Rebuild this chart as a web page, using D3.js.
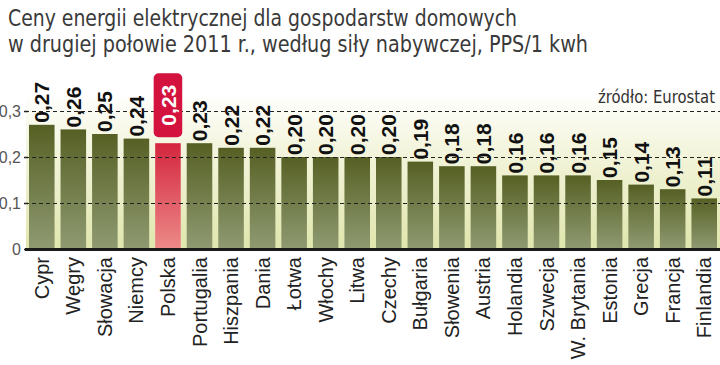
<!DOCTYPE html>
<html><head><meta charset="utf-8">
<script src="https://cdn.jsdelivr.net/npm/d3@7"></script>
<style>
html,body{margin:0;padding:0;background:#fff;}
svg{display:block;}
</style></head>
<body>
<svg id="c" width="720" height="365"></svg>
<script>
const countries = ["Cypr","Węgry","Słowacja","Niemcy","Polska","Portugalia","Hiszpania","Dania","Łotwa","Włochy","Litwa","Czechy","Bułgaria","Słowenia","Austria","Holandia","Szwecja","W. Brytania","Estonia","Grecja","Francja","Finlandia"];
const prices = [0.27,0.26,0.25,0.24,0.23,0.23,0.22,0.22,0.20,0.20,0.20,0.20,0.19,0.18,0.18,0.16,0.16,0.16,0.15,0.14,0.13,0.11];
const yTicks = [0,0.1,0.2,0.3];
const highlight = "Polska";
const titleLines = ["Ceny energii elektrycznej dla gospodarstw domowych","w drugiej połowie 2011 r., według siły nabywczej, PPS/1 kwh"];
const sourceText = "źródło: Eurostat";

const svg = d3.select("#c");
const fmt = v => v === 0 ? "0" : d3.format(".2f")(v).replace(".", ",");
const fmtT = v => v === 0 ? "0" : d3.format(".1f")(v).replace(".", ",");

const x = d3.scaleBand().domain(countries).range([26, 720]).paddingInner(0.19).paddingOuter(0.095);
const y = d3.scaleLinear().domain([0, 0.3]).range([249, 111]);

const defs = svg.append("defs");
const bg = defs.append("linearGradient").attr("id","bg").attr("gradientUnits","userSpaceOnUse")
  .attr("x1",0).attr("y1",92).attr("x2",0).attr("y2",249);
bg.append("stop").attr("offset",0).attr("stop-color","#ffffff");
bg.append("stop").attr("offset",0.35).attr("stop-color","#f4f5de");
bg.append("stop").attr("offset",1).attr("stop-color","#e0e6ad");
const gG = defs.append("linearGradient").attr("id","gbar").attr("x1",0).attr("y1",0).attr("x2",0).attr("y2",1);
gG.append("stop").attr("offset",0).attr("stop-color","#566024");
gG.append("stop").attr("offset",1).attr("stop-color","#8f9a72");
const gR = defs.append("linearGradient").attr("id","rbar").attr("x1",0).attr("y1",0).attr("x2",0).attr("y2",1);
gR.append("stop").attr("offset",0).attr("stop-color","#d4263e");
gR.append("stop").attr("offset",1).attr("stop-color","#ec8a88");

// background
svg.append("rect").attr("x",26).attr("y",92).attr("width",694).attr("height",249-92).attr("fill","url(#bg)");

// title
svg.selectAll("text.title").data(titleLines).join("text").attr("class","title")
  .attr("x",8).attr("y",(d,i)=>26+i*26)
  .attr("font-family","'Liberation Sans Narrow','DejaVu Sans Condensed',sans-serif")
  .attr("font-size",23).attr("fill","#3a3a3a")
  .attr("textLength",(d,i)=> i===0 ? 509 : 580).attr("lengthAdjust","spacingAndGlyphs")
  .text(d=>d);

// source
svg.append("text").attr("x",715).attr("y",103).attr("text-anchor","end")
  .attr("font-family","'Liberation Sans Narrow','DejaVu Sans Condensed',sans-serif")
  .attr("font-size",17).attr("fill","#333")
  .attr("textLength",117).attr("lengthAdjust","spacingAndGlyphs")
  .text(sourceText);

// bars
svg.selectAll("rect.bar").data(countries).join("rect").attr("class","bar")
  .attr("x",d=>x(d)).attr("width",x.bandwidth())
  .attr("y",(d,i)=>y(prices[i])).attr("height",(d,i)=>y(0)-y(prices[i]))
  .attr("fill",d=> d===highlight ? "url(#rbar)" : "url(#gbar)");

// grid lines
svg.selectAll("line.grid").data(yTicks.filter(t=>t>0)).join("line").attr("class","grid")
  .attr("x1",25).attr("x2",720).attr("y1",d=>y(d)+0.5).attr("y2",d=>y(d)+0.5)
  .attr("stroke","#222").attr("stroke-width",1).attr("stroke-dasharray","4,3");

// y axis
const ax = svg.append("g").attr("transform","translate(28,0)")
  .call(d3.axisLeft(y).tickValues(yTicks).tickFormat(fmtT).tickSize(4).tickPadding(3));
ax.select(".domain").remove();
ax.selectAll(".tick line").attr("stroke","#222").attr("stroke-width",1.5);
ax.selectAll(".tick text").attr("font-family","'Liberation Sans','Arial',sans-serif")
  .attr("font-size",16).attr("fill","#555");

// baseline
svg.append("line").attr("x1",25).attr("x2",720).attr("y1",y(0)+0.5).attr("y2",y(0)+0.5)
  .attr("stroke","#1a1a1a").attr("stroke-width",3);

// category labels
svg.selectAll("text.cat").data(countries).join("text").attr("class","cat")
  .attr("transform",d=>`translate(${x(d)+x.bandwidth()/2},257) rotate(-90)`)
  .attr("text-anchor","end").attr("dy","0.35em")
  .attr("font-family","'Liberation Sans','Arial',sans-serif")
  .attr("font-size",20).attr("fill","#222")
  .text(d=>d);

// value labels
const hi = countries.indexOf(highlight);
const boxH = 64;
svg.append("rect")
  .attr("x",x(highlight)-1.5).attr("width",x.bandwidth()+3)
  .attr("y",y(prices[hi])-6-boxH).attr("height",boxH)
  .attr("rx",5).attr("fill","#d4123e");

svg.selectAll("text.val").data(countries).join("text").attr("class","val")
  .attr("transform",(d,i)=>{
    const cx = x(d)+x.bandwidth()/2;
    const yy = d===highlight ? y(prices[i])-6-boxH/2 : y(prices[i])-2;
    return `translate(${cx},${yy}) rotate(-90)`;
  })
  .attr("text-anchor",d=> d===highlight ? "middle" : "start").attr("dy","0.36em")
  .attr("font-family","'Liberation Sans','Arial',sans-serif").attr("font-weight","bold")
  .attr("font-size",21).attr("fill",d=> d===highlight ? "#fff" : "#111")
  .text((d,i)=>fmt(prices[i]));
</script>
</body></html>
